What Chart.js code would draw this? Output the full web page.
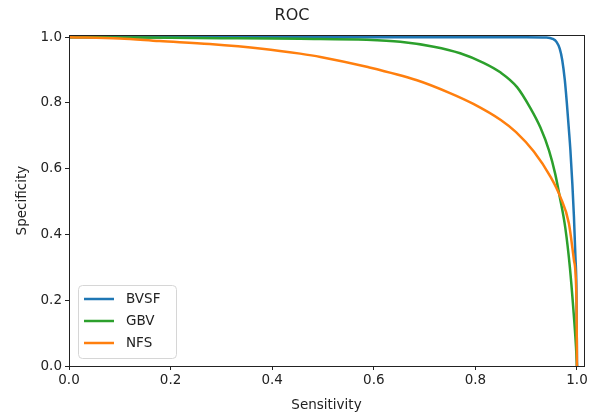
<!DOCTYPE html>
<html>
<head>
<meta charset="utf-8">
<script src="https://cdn.jsdelivr.net/npm/chart.js@4/dist/chart.umd.min.js"></script>
<style>
  html, body { margin: 0; padding: 0; background: #fff; }
  #wrap { width: 590px; height: 414px; }
</style>
</head>
<body>
<div id="wrap"><canvas id="rocChart" width="590" height="414"></canvas></div>
<script>
// ROC curves (x = sensitivity, y = specificity)
const bvsfX = [0, 0.5, 0.9, 0.94, 0.952, 0.96, 0.966, 0.971, 0.976, 0.98, 0.984, 0.987, 0.991, 0.994, 0.997, 0.999, 1.0];
const bvsfY = [1, 1, 1, 0.999, 0.995, 0.985, 0.965, 0.93, 0.87, 0.8, 0.72, 0.657, 0.55, 0.454, 0.33, 0.22, 0];

const gbvX = [0, 0.1, 0.2, 0.3, 0.4, 0.455, 0.586, 0.652, 0.718, 0.77, 0.816, 0.849, 0.882, 0.908, 0.928, 0.945, 0.957, 0.966, 0.977, 0.986, 0.993, 0.998, 1.0];
const gbvY = [1, 0.999, 0.998, 0.997, 0.996, 0.995, 0.992, 0.986, 0.971, 0.951, 0.922, 0.893, 0.848, 0.785, 0.725, 0.655, 0.585, 0.515, 0.42, 0.3, 0.17, 0.06, 0];

const nfsX = [0, 0.1, 0.178, 0.277, 0.38, 0.455, 0.495, 0.586, 0.685, 0.75, 0.796, 0.85, 0.88, 0.915, 0.948, 0.967, 0.984, 0.994, 0.999, 1.0];
const nfsY = [1, 0.996, 0.988, 0.979, 0.965, 0.95, 0.94, 0.91, 0.869, 0.83, 0.797, 0.748, 0.711, 0.652, 0.575, 0.515, 0.434, 0.322, 0.2, 0];

const seriesNames = ['BVSF', 'GBV', 'NFS'];
const seriesColors = ['#1f77b4', '#2ca02c', '#ff7f0e'];
const tickValues = [0, 0.2, 0.4, 0.6, 0.8, 1.0];

const toPoints = (xs, ys) => xs.map((x, i) => ({ x: x, y: ys[i] }));

// box around the plot area, like matplotlib spines
const frame = {
  id: 'frame',
  afterDatasetsDraw(chart) {
    const a = chart.chartArea, ctx = chart.ctx;
    ctx.save();
    ctx.strokeStyle = '#222';
    ctx.lineWidth = 1;
    ctx.strokeRect(Math.round(a.left) + 0.5, Math.round(a.top) + 0.5,
      Math.round(a.right - a.left), Math.round(a.bottom - a.top));
    ctx.restore();
  }
};

// legend box in the lower left corner
const cornerLegend = {
  id: 'cornerLegend',
  afterDraw(chart) {
    const a = chart.chartArea, ctx = chart.ctx;
    const x0 = a.left + 9, y1 = a.bottom - 8;
    const w = 98, h = 73, y0 = y1 - h;
    ctx.save();
    ctx.fillStyle = 'rgba(255,255,255,0.85)';
    ctx.strokeStyle = '#d6d6d6';
    ctx.lineWidth = 1;
    ctx.beginPath();
    ctx.roundRect(x0 + 0.5, y0 + 0.5, w, h, 4);
    ctx.fill();
    ctx.stroke();
    ctx.font = '13.5px "DejaVu Sans"';
    ctx.textBaseline = 'middle';
    seriesNames.forEach((name, i) => {
      const y = y0 + 14 + i * 22;
      ctx.strokeStyle = seriesColors[i];
      ctx.lineWidth = 2.5;
      ctx.beginPath();
      ctx.moveTo(x0 + 6, y);
      ctx.lineTo(x0 + 36, y);
      ctx.stroke();
      ctx.fillStyle = '#222';
      ctx.fillText(name, x0 + 48, y);
    });
    ctx.restore();
  }
};

const ds = (i, xs, ys, order) => ({
  label: seriesNames[i],
  data: toPoints(xs, ys),
  borderColor: seriesColors[i],
  backgroundColor: seriesColors[i],
  borderWidth: 2.5,
  pointRadius: 0,
  fill: false,
  cubicInterpolationMode: 'monotone',
  order: order
});

new Chart(document.getElementById('rocChart').getContext('2d'), {
  type: 'line',
  data: {
    datasets: [ds(0, bvsfX, bvsfY, 2), ds(1, gbvX, gbvY, 1), ds(2, nfsX, nfsY, 0)]
  },
  options: {
    responsive: false,
    animation: false,
    layout: { padding: { left: 0, right: 6, top: 0, bottom: 0 } },
    plugins: {
      legend: { display: false },
      tooltip: { enabled: false },
      title: {
        display: true,
        text: 'ROC',
        color: '#222',
        font: { family: 'DejaVu Sans', size: 16, weight: 'normal' },
        padding: { top: 6, bottom: 10 }
      }
    },
    scales: {
      x: {
        type: 'linear',
        min: 0,
        max: 1.0138,
        afterBuildTicks: s => { s.ticks = tickValues.map(v => ({ value: v })); },
        afterFit: s => { s.height = 48; },
        grid: { drawOnChartArea: false, drawTicks: true, tickLength: 4, color: '#222' },
        border: { display: true, color: '#222' },
        ticks: {
          color: '#222', padding: 2, maxRotation: 0,
          font: { family: 'DejaVu Sans', size: 13.5 },
          callback: v => Number(v).toFixed(1)
        },
        title: {
          display: true, text: 'Sensitivity', color: '#222',
          font: { family: 'DejaVu Sans', size: 13.5 },
          padding: { top: 0, bottom: 0 }
        }
      },
      y: {
        type: 'linear',
        min: 0,
        max: 1.006,
        afterBuildTicks: s => { s.ticks = tickValues.map(v => ({ value: v })); },
        afterFit: s => { s.width = 69; },
        grid: { drawOnChartArea: false, drawTicks: true, tickLength: 4, color: '#222' },
        border: { display: true, color: '#222' },
        ticks: {
          color: '#222', padding: 3,
          font: { family: 'DejaVu Sans', size: 13.5 },
          callback: v => Number(v).toFixed(1)
        },
        title: {
          display: true, text: 'Specificity', color: '#222',
          font: { family: 'DejaVu Sans', size: 13.5 },
          padding: { top: 14, bottom: 0 }
        }
      }
    }
  },
  plugins: [frame, cornerLegend]
});
</script>
</body>
</html>
